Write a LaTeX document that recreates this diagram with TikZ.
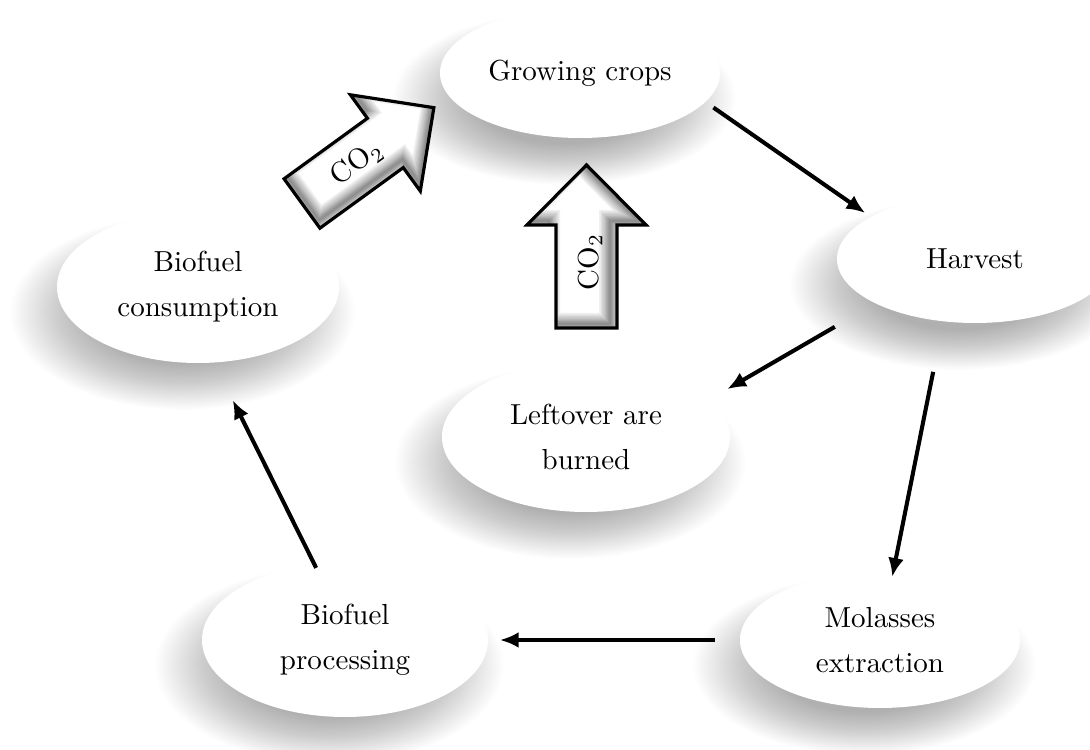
\documentclass[tikz,border=0pt]{standalone}
\usetikzlibrary{shapes.geometric,arrows.meta}
\pgfdeclareradialshading{softshadow}{\pgfpoint{0bp}{0bp}}{color(0bp)=(black!31); color(13bp)=(black!31); color(18bp)=(black!20); color(25bp)=(white); color(50bp)=(white)}
\newcommand\pxu{0.345pt}
\newcommand\arrowshape[1]{\path[#1] (0,30.5) -- (103,30.5) -- (103,59.5) -- (163,0) -- (103,-59.5) -- (103,-30.5) -- (0,-30.5) -- cycle;}
\newcommand\blockarrow{%
  \arrowshape{fill=white}
  \begin{scope}
    \arrowshape{clip}
    \foreach \w in {22,19,16,13,10,8,6,4,2}{
      \arrowshape{draw=black, line width=\w*0.345pt, opacity=0.06, shift={(4,7)}}
    }
  \end{scope}
  \arrowshape{draw=black, line width=1.1pt, line join=miter}
}
\begin{document}
\begin{tikzpicture}[x=0.345pt,y=-0.345pt,
  stage/.style={ellipse, fill=white, inner sep=0pt, outer sep=0pt, align=center,
    font=\linespread{1.29}\selectfont},
  softshade/.style={shading=softshadow},
  flow/.style={line width=1.4pt, -{Latex[length=6.5pt,width=5.5pt]}},
  co2/.style={inner sep=0pt}]
\fill[white] (0,0) rectangle (1090,750);
\useasboundingbox (0,0) rectangle (1090,750);

% soft drop shadows of the ellipses
\foreach \cx/\cy/\hw/\hh in {580/73/140/65, 975/259/138/64, 586/437/144/75,
    345/640/143/77, 880/640/140/68, 198/287/141/76}{
  \shade[softshade] (\cx-16,\cy+25) ellipse [x radius=\hw+32, y radius=\hh+22];
}

\node[stage, minimum width=280*\pxu, minimum height=130*\pxu] (gc) at (580,73) {Growing crops};
\node[stage, minimum width=276*\pxu, minimum height=128*\pxu] (hv) at (975,259) {Harvest};
\node[stage, minimum width=288*\pxu, minimum height=150*\pxu] (lo) at (586,437) {Leftover are\\burned};
\node[stage, minimum width=286*\pxu, minimum height=154*\pxu] (bp) at (345,640) {Biofuel\\processing};
\node[stage, minimum width=280*\pxu, minimum height=136*\pxu] (me) at (880,640) {Molasses\\extraction};
\node[stage, minimum width=282*\pxu, minimum height=152*\pxu] (bc) at (198,287) {Biofuel\\consumption};

\begin{scope}[shift={(302,203.5)}, rotate=36, y=0.345pt]
  \blockarrow
\end{scope}
\node[co2, rotate=36] (co2a) at (357,163) {CO$_2$};

\begin{scope}[shift={(586.5,328)}, rotate=90, y=0.345pt]
  \blockarrow
\end{scope}
\node[co2, rotate=90] (co2b) at (590,262) {CO$_2$};

\draw[flow, shorten <=3.4pt, shorten >=2.4pt] (gc.347) -- (hv.158);
\draw[flow, shorten <=16.2pt, shorten >=6.8pt] (hv.204) -- (lo.17);
\draw[flow, shorten <=17.8pt, shorten >=-1.6pt] (hv.243) -- (me.79);
\draw[flow, shorten <=8.6pt, shorten >=4.1pt] (me.180) -- (bp.0);
\draw[flow, shorten <=-1.2pt, shorten >=14.5pt] (bp.112) -- (bc.282);
\end{tikzpicture}
\end{document}
